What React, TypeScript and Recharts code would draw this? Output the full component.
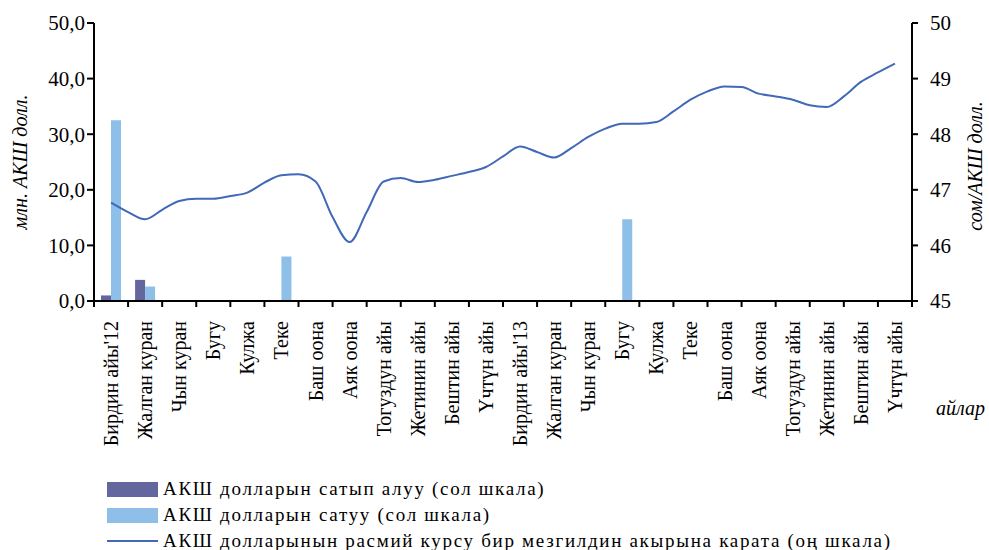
import React from 'react';
import { ComposedChart, Bar, Line, XAxis, YAxis, Label } from 'recharts';

const months = [
  "Бирдин айы'12", 'Жалган куран', 'Чын куран', 'Бугу', 'Кулжа', 'Теке',
  'Баш оона', 'Аяк оона', 'Тогуздун айы', 'Жетинин айы', 'Бештин айы', 'Үчтүн айы',
  "Бирдин айы'13", 'Жалган куран', 'Чын куран', 'Бугу', 'Кулжа', 'Теке',
  'Баш оона', 'Аяк оона', 'Тогуздун айы', 'Жетинин айы', 'Бештин айы', 'Үчтүн айы',
];

// млн. АКШ долл. (left scale)
const purchases = [1.0, 3.8, 0, 0, 0, 0, 0, 0, 0, 0, 0, 0, 0, 0, 0, 0, 0, 0, 0, 0, 0, 0, 0, 0];
const sales = [32.5, 2.6, 0, 0, 0, 8.0, 0, 0, 0, 0, 0, 0, 0, 0, 0, 14.7, 0, 0, 0, 0, 0, 0, 0, 0];

// сом/АКШ долл. (right scale), twice a month
const rate = [
  46.77, 46.6, 46.47, 46.64, 46.8, 46.84, 46.84, 46.89, 46.95, 47.13, 47.26, 47.28,
  47.15, 46.51, 46.06, 46.6, 47.15, 47.21, 47.14, 47.18, 47.25, 47.32, 47.41, 47.6,
  47.78, 47.68, 47.58, 47.75, 47.95, 48.1, 48.19, 48.19, 48.22, 48.41, 48.62, 48.77,
  48.86, 48.85, 48.73, 48.68, 48.62, 48.52, 48.49, 48.68, 48.94, 49.11, 49.27,
];

const leftTicks = [0, 10, 20, 30, 40, 50];
const rightTicks = [45, 46, 47, 48, 49, 50];

const legendItems = [
  { label: 'АКШ долларын сатып алуу (сол шкала)', kind: 'bar', color: '#64669E' },
  { label: 'АКШ долларын сатуу (сол шкала)', kind: 'bar', color: '#8EBFE8' },
  { label: 'АКШ долларынын расмий курсу бир мезгилдин акырына карата (оң шкала)', kind: 'line', color: '#4169B8' },
];

const barData = months.map((m, i) => ({ month: m, buy: purchases[i], sell: sales[i] }));
const lineData = rate.map((v, i) => ({ t: i / 2, rate: v }));

const W = 989;
const H = 550;
const LEFT = 94;
const RIGHT_W = 77;
const BW = (W - LEFT - RIGHT_W) / months.length;
const FONT = '"Liberation Serif", "Times New Roman", serif';

const MonthTick = (props: any) => {
  const { x, y, payload, index } = props;
  const x0 = x - BW / 2;
  return (
    <g>
      <line x1={x0} x2={x0} y1={y} y2={y + 6} stroke="#000" strokeWidth={2} />
      {index === months.length - 1 && (
        <line x1={x + BW / 2} x2={x + BW / 2} y1={y} y2={y + 6} stroke="#000" strokeWidth={2} />
      )}
      <text
        x={0}
        y={0}
        transform={`translate(${x + 7},${y + 20}) rotate(-90)`}
        textAnchor="end"
        fontSize={20}
        fontFamily={FONT}
        fill="#000"
      >
        {payload.value}
      </text>
    </g>
  );
};

export default function App() {
  return (
    <div style={{ position: 'absolute', left: 0, top: 0, width: W, height: H, background: '#fff' }}>
      <ComposedChart
        width={W}
        height={H}
        data={barData}
        margin={{ top: 23, right: 0, left: 0, bottom: 0 }}
        barGap={0}
      >
        <XAxis
          dataKey="month"
          xAxisId="cat"
          height={249}
          interval={0}
          tickLine={false}
          tickSize={0}
          tickMargin={0}
          axisLine={{ stroke: '#000', strokeWidth: 2 }}
          tick={<MonthTick />}
        />
        <XAxis dataKey="t" xAxisId="line" type="number" domain={[-0.5, 23.5]} hide />
        <YAxis
          yAxisId="left"
          orientation="left"
          width={LEFT}
          domain={[0, 50]}
          ticks={leftTicks}
          interval={0}
          tickFormatter={(v: number) => v.toFixed(1).replace('.', ',')}
          tickSize={7}
          tickMargin={2}
          axisLine={{ stroke: '#000', strokeWidth: 2 }}
          tickLine={{ stroke: '#000', strokeWidth: 2 }}
          tick={{ fill: '#000', fontSize: 21, fontFamily: FONT }}
        >
          <Label
            content={() => (
              <text
                transform="translate(27,162) rotate(-90)"
                textAnchor="middle"
                fontSize={20}
                fontStyle="italic"
                fontFamily={FONT}
                fill="#000"
              >
                млн. АКШ долл.
              </text>
            )}
          />
        </YAxis>
        <YAxis
          yAxisId="right"
          orientation="right"
          width={RIGHT_W}
          domain={[45, 50]}
          ticks={rightTicks}
          interval={0}
          tickSize={6}
          tickMargin={12}
          axisLine={{ stroke: '#000', strokeWidth: 2 }}
          tickLine={{ stroke: '#000', strokeWidth: 2 }}
          tick={{ fill: '#000', fontSize: 21, fontFamily: FONT, textAnchor: 'start' }}
        >
          <Label
            content={() => (
              <text
                transform="translate(982,166) rotate(-90)"
                textAnchor="middle"
                fontSize={20}
                fontStyle="italic"
                fontFamily={FONT}
                fill="#000"
              >
                сом/АКШ долл.
              </text>
            )}
          />
        </YAxis>
        <Bar dataKey="buy" xAxisId="cat" yAxisId="left" fill="#64669E" barSize={10} isAnimationActive={false} />
        <Bar dataKey="sell" xAxisId="cat" yAxisId="left" fill="#8EBFE8" barSize={10} isAnimationActive={false} />
        <Line
          data={lineData}
          dataKey="rate"
          xAxisId="line"
          yAxisId="right"
          type="monotone"
          stroke="#4169B8"
          strokeWidth={2}
          dot={false}
          activeDot={false}
          isAnimationActive={false}
        />
      </ComposedChart>
      <div
        style={{
          position: 'absolute',
          left: 936,
          top: 397,
          fontFamily: FONT,
          fontStyle: 'italic',
          fontSize: 20,
          color: '#000',
        }}
      >
        айлар
      </div>
      <div
        style={{
          position: 'absolute',
          left: 107,
          top: 476,
          fontFamily: FONT,
          fontSize: 19,
          letterSpacing: 1.7,
          color: '#000',
        }}
      >
        {legendItems.map((it) => (
          <div key={it.label} style={{ display: 'flex', alignItems: 'center', height: 26 }}>
            {it.kind === 'bar' ? (
              <div style={{ width: 51, height: 15, background: it.color }} />
            ) : (
              <div style={{ width: 51, height: 2, background: it.color }} />
            )}
            <span style={{ marginLeft: 5, whiteSpace: 'nowrap' }}>{it.label}</span>
          </div>
        ))}
      </div>
    </div>
  );
}
